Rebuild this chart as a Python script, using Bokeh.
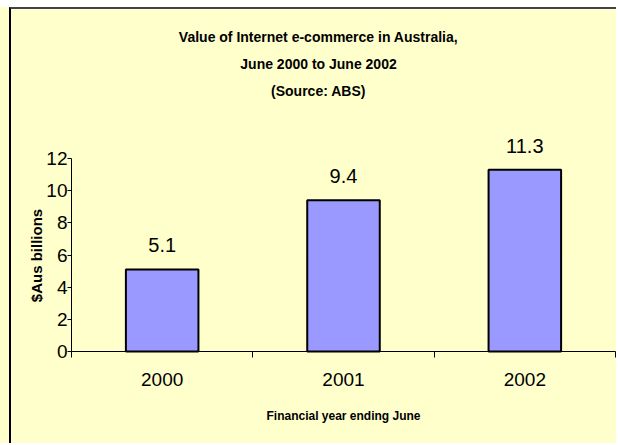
import math
from bokeh.plotting import figure
from bokeh.models import ColumnDataSource, FixedTicker, Range1d, Label
from bokeh.core.properties import value
from bokeh.embed import file_html
from bokeh.resources import INLINE

# ---- data ----
years = ["2000", "2001", "2002"]
values = [5.1, 9.4, 11.3]
y_ticks = [0, 2, 4, 6, 8, 10, 12]
title_lines = ["Value of Internet e-commerce in Australia,",
               "June 2000 to June 2002",
               "(Source: ABS)"]
y_label = "$Aus billions"
x_label = "Financial year ending June"

BG = "#FFFFCC"
BAR = "#9999FF"
SANS = "Liberation Sans"

# ---- page geometry (pixels) ----
CANVAS_L, CANVAS_T, CANVAS_W, CANVAS_H = 11, 9, 607, 436
AX_L, AX_R = 71, 615        # x-axis pixel extent (categories)
AX_0, AX_TOP = 351, 158     # y pixel of value 0 and of the top tick
PX_X = (AX_R - AX_L) / len(years)
PX_Y = (AX_0 - AX_TOP) / y_ticks[-1]

def px_to_x(px):
    return (px - AX_L) / PX_X

def px_to_y(py):
    return (AX_0 - py) / PX_Y

x_range = Range1d(px_to_x(CANVAS_L), px_to_x(CANVAS_L + CANVAS_W))
y_range = Range1d(px_to_y(CANVAS_T + CANVAS_H), px_to_y(CANVAS_T))

xpos = [i + 0.5 for i in range(len(years))]
src = ColumnDataSource(dict(x=xpos, v=values, lbl=[f"{v}" for v in values]))

p = figure(width=CANVAS_W, height=CANVAS_H, output_backend="svg", toolbar_location=None,
           x_range=x_range, y_range=y_range,
           min_border_left=0, min_border_right=0, min_border_top=0, min_border_bottom=0)
p.styles = {"margin-left": "9px", "margin-top": "7px",
            "border-top": "2px solid #444444", "border-left": "2px solid #000000",
            "box-shadow": "-9px 0 0 0 #FFFFCC"}
p.background_fill_color = BG
p.border_fill_color = BG
p.outline_line_color = None
p.xgrid.visible = False
p.ygrid.visible = False

p.vbar(x="x", top="v", width=0.4, bottom=0, source=src,
       fill_color=BAR, line_color="black", line_width=2)
p.text(x="x", y="v", text="lbl", source=src, text_align="center",
       text_baseline="alphabetic", y_offset=-24,
       text_font_size="20px", text_font=value(SANS), text_color="black")

# x axis: labels at centres, ticks at category boundaries
xa = p.xaxis[0]
xa.fixed_location = 0
xa.bounds = (0, len(years))
xa.ticker = FixedTicker(ticks=xpos, minor_ticks=list(range(len(years) + 1)))
xa.major_label_overrides = {x: y for x, y in zip(xpos, years)}
xa.major_tick_line_color = None
xa.major_tick_out = 0
xa.major_tick_in = 0
xa.minor_tick_line_color = "black"
xa.minor_tick_out = 6
xa.minor_tick_in = 0
xa.major_label_standoff = 15
xa.major_label_text_font = SANS
xa.major_label_text_font_size = "19px"
xa.major_label_text_color = "black"
xa.axis_line_color = "black"

ya = p.yaxis[0]
ya.fixed_location = 0
ya.bounds = (y_ticks[0], y_ticks[-1])
ya.ticker = FixedTicker(ticks=y_ticks, minor_ticks=[])
ya.major_tick_out = 4
ya.major_tick_in = 0
ya.major_tick_line_color = "black"
ya.minor_tick_line_color = None
ya.major_label_standoff = 0
ya.major_label_text_font = SANS
ya.major_label_text_font_size = "19px"
ya.major_label_text_color = "black"
ya.axis_line_color = "black"

# axis titles
p.add_layout(Label(x=px_to_x(36), y=px_to_y(255), text=y_label, angle=math.pi / 2,
                   text_align="center", text_baseline="middle",
                   text_font=SANS, text_font_style="bold",
                   text_font_size="15px", text_color="black"))
p.add_layout(Label(x=px_to_x(343), y=px_to_y(415), text=x_label,
                   text_align="center", text_baseline="middle",
                   text_font=SANS, text_font_style="bold",
                   text_font_size="12px", text_color="black"))

# chart title lines
for i, line in enumerate(title_lines):
    p.add_layout(Label(x=px_to_x(318), y=px_to_y(36 + 27 * i),
                       text=line, text_align="center", text_baseline="middle",
                       text_font=SANS, text_font_style="bold",
                       text_font_size="14px", text_color="black"))

open("out.html", "w").write(file_html(p, INLINE))
